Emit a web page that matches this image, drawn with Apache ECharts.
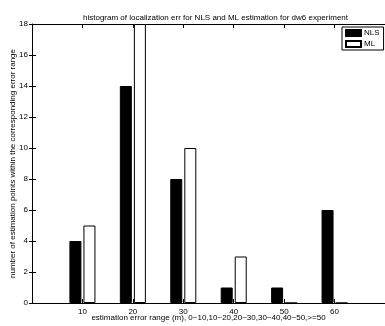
<!DOCTYPE html>
<html>
<head>
<meta charset="utf-8">
<script src="https://cdn.jsdelivr.net/npm/echarts@6/dist/echarts.min.js"></script>
<style>html,body{margin:0;padding:0;background:#fff}#c{width:385px;height:326px}</style>
</head>
<body>
<div id="c"></div>
<script>
var categories = [10, 20, 30, 40, 50, 60];
var nlsValues = [4, 14, 8, 1, 1, 6];
var mlValues = [5, 18, 10, 3, 0, 0];
var yTicks = [0, 2, 4, 6, 8, 10, 12, 14, 16, 18];

var FONT = 'Liberation Sans';
var chart = echarts.init(document.getElementById('c'));
function pairs(vals){ return categories.map(function(c,i){ return [c, vals[i]]; }); }
var tickLabelShow = function(v){ return categories.indexOf(v) >= 0 ? String(v) : ''; };

chart.setOption({
  animation: false,
  backgroundColor: '#fff',
  title: {
    text: 'histogram of localization err for NLS and ML estimation for dw6 experiment',
    left: 78, top: 9,
    textStyle: {fontFamily: FONT, fontSize: 8, fontWeight: 'normal', color: '#000'}
  },
  legend: {
    data: ['NLS', 'ML'],
    orient: 'vertical',
    left: 342, top: 27,
    padding: [2, 4, 2, 3],
    itemWidth: 15, itemHeight: 6, itemGap: 3,
    icon: 'rect',
    backgroundColor: '#fff',
    borderColor: '#000', borderWidth: 1,
    textStyle: {fontFamily: FONT, fontSize: 8, color: '#000', padding: [0,0,0,-2]}
  },
  grid: {left: 32, right: 0, top: 24, bottom: 23, containLabel: false, outerBoundsMode: 'none'},
  xAxis: [{
    type: 'value', position: 'bottom', min: 0, max: 70, interval: 10,
    name: 'estimation error range (m), 0~10,10~20,20~30,30~40,40~50,>=50',
    nameLocation: 'middle', nameGap: 15, nameMoveOverlap: false,
    nameTextStyle: {fontFamily: FONT, fontSize: 8, color: '#000', verticalAlign: 'middle'},
    axisLine: {show: true, lineStyle: {color: '#000', width: 1}},
    axisTick: {show: true, inside: true, length: 4, lineStyle: {color: '#000'}},
    axisLabel: {fontFamily: FONT, fontSize: 8, color: '#000', margin: 5, formatter: tickLabelShow},
    splitLine: {show: false}
  }, {
    type: 'value', position: 'top', min: 0, max: 70, interval: 10,
    axisLine: {show: true, onZero: false, lineStyle: {color: '#000', width: 1}},
    axisTick: {show: true, inside: true, length: 4, lineStyle: {color: '#000'},
      interval: function(i, v){ return categories.indexOf(v) >= 0; }},
    axisLabel: {show: false},
    splitLine: {show: false}
  }],
  yAxis: [{
    type: 'value', position: 'left', min: yTicks[0], max: yTicks[yTicks.length-1], interval: 2,
    name: 'number of estimation points within the corresponding error range',
    nameLocation: 'middle', nameGap: 19, nameMoveOverlap: false,
    nameTextStyle: {fontFamily: FONT, fontSize: 8, color: '#000', verticalAlign: 'middle'},
    axisLine: {show: true, lineStyle: {color: '#000', width: 1}},
    axisTick: {show: true, inside: true, length: 4, lineStyle: {color: '#000'}},
    axisLabel: {fontFamily: FONT, fontSize: 8, color: '#000', margin: 4},
    splitLine: {show: false}
  }, {
    type: 'value', position: 'right', min: yTicks[0], max: yTicks[yTicks.length-1], interval: 2,
    axisLine: {show: false},
    axisTick: {show: true, inside: true, length: 3, lineStyle: {color: '#000'}},
    axisLabel: {show: false},
    splitLine: {show: false}
  }],
  series: [{
    name: 'NLS', type: 'bar', xAxisIndex: 0, yAxisIndex: 0,
    data: pairs(nlsValues),
    barWidth: 12, barGap: '17%',
    itemStyle: {color: '#000', borderColor: '#000', borderWidth: 1}
  }, {
    name: 'ML', type: 'bar', xAxisIndex: 0, yAxisIndex: 0,
    data: pairs(mlValues),
    barWidth: 12, barGap: '17%',
    itemStyle: {color: '#fff', borderColor: '#000', borderWidth: 1}
  }]
});
</script>
</body>
</html>
